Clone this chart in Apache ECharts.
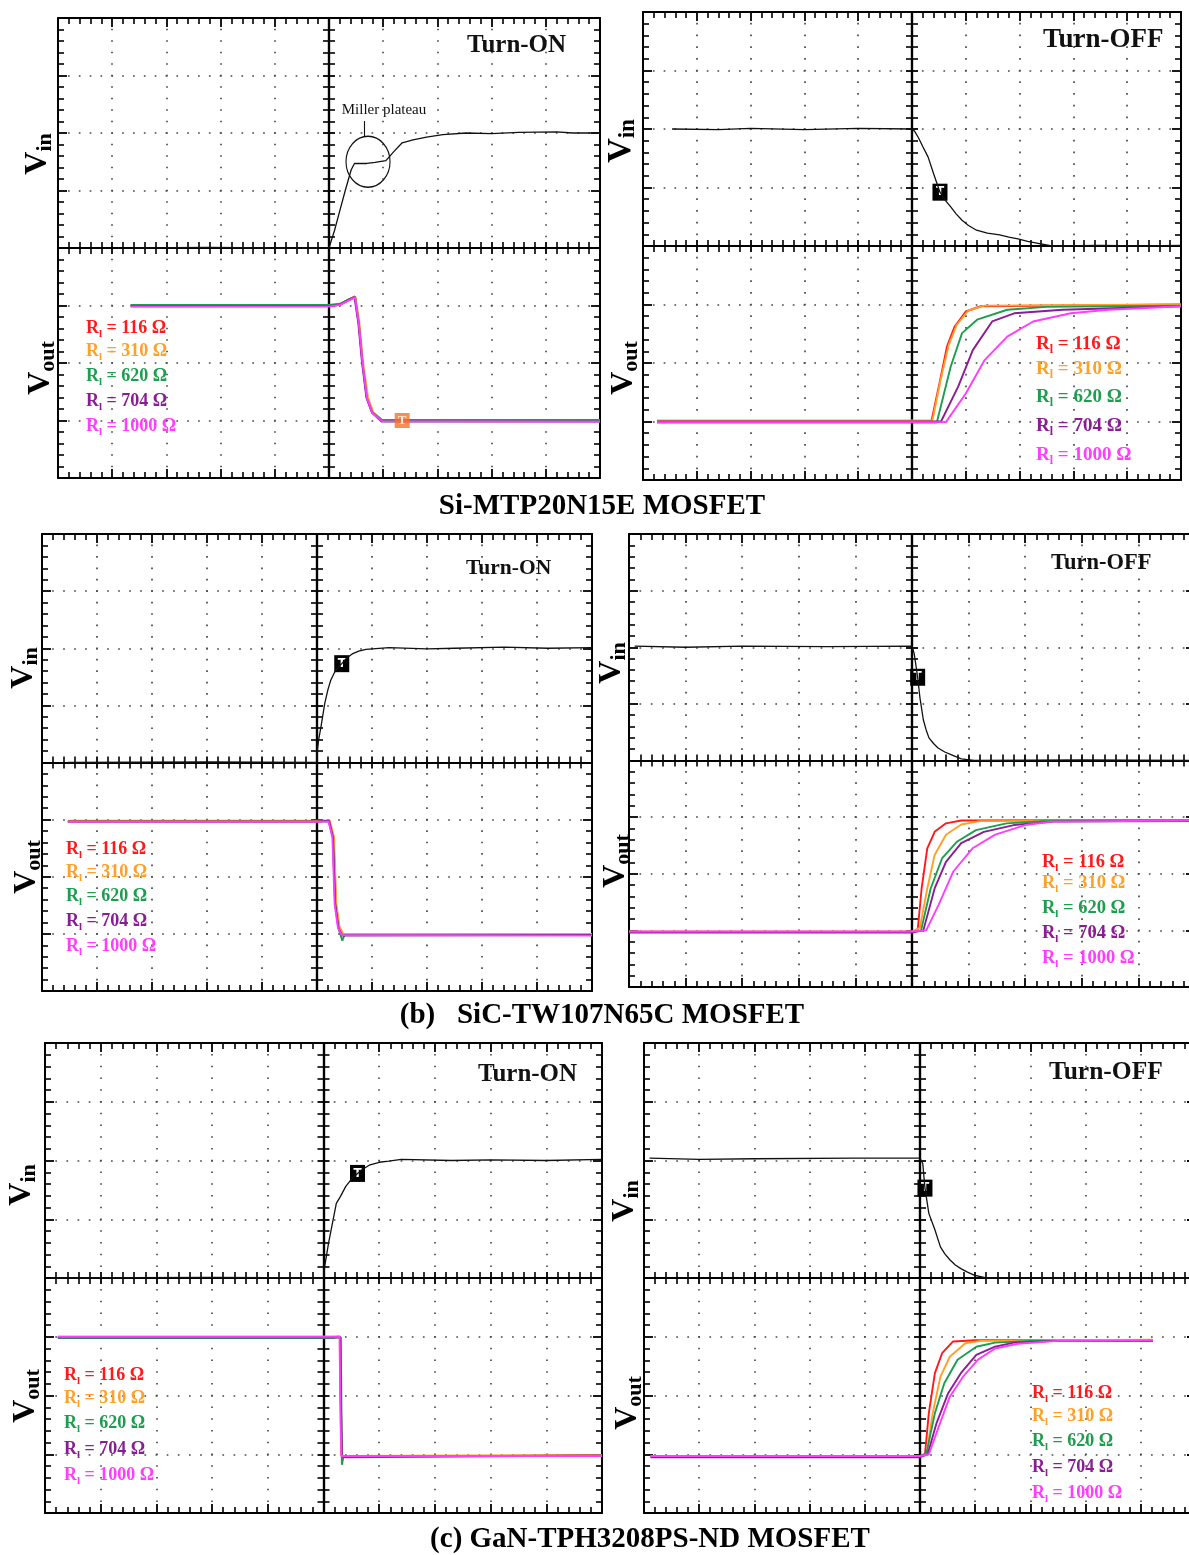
<!DOCTYPE html>
<html>
<head>
<meta charset="utf-8">
<script src="https://cdn.jsdelivr.net/npm/echarts@6/dist/echarts.min.js"></script>
<style>
html,body{margin:0;padding:0;background:#fff;}
#chart{width:1189px;height:1555px;}
</style>
</head>
<body>
<div id="chart"></div>
<script>
// ---------------- DATA (x, y in scope divisions; centre of screen = 0,0) ----------------
const captions = ['Si-MTP20N15E MOSFET', '(b)   SiC-TW107N65C MOSFET', '(c) GaN-TPH3208PS-ND MOSFET'];
const modeTitles = ['Turn-ON', 'Turn-OFF', 'Turn-ON', 'Turn-OFF', 'Turn-ON', 'Turn-OFF'];
const loadValues = ['116', '310', '620', '704', '1000'];
const millerText = 'Miller plateau';

// Vin traces
const vinA = [[-3.65,0],[-2.2,0.01],[-1,0],[0,0],[0.1,0.3],[0.2,0.65],[0.3,1.0],[0.41,1.36],[0.47,1.47],[0.5,1.5],[0.7,1.47],[0.85,1.49],[1.05,1.52],[1.2,1.68],[1.35,1.83],[1.55,1.88],[1.8,1.93],[2.1,1.97],[2.53,2.0],[3.0,1.99],[3.5,2.01],[4.2,2.02],[4.5,2.0],[5,2.0]];
const vinB = [[-4.46,2.0],[-3.6,1.99],[-3,2.01],[-2,1.99],[-1,2.01],[0,2.0],[0.05,1.96],[0.12,1.85],[0.2,1.7],[0.3,1.52],[0.4,1.24],[0.52,0.92],[0.62,0.78],[0.72,0.67],[0.82,0.55],[0.93,0.44],[1.05,0.35],[1.2,0.27],[1.4,0.22],[1.63,0.19],[1.8,0.15],[1.97,0.12],[2.15,0.08],[2.32,0.05],[2.6,0.0],[3.5,0.01],[4.3,0.0],[5,0.01]];
const vinC = [[-4.53,0],[-2,0.01],[0,0],[0.0,0.16],[0.03,0.4],[0.07,0.61],[0.14,1.03],[0.2,1.28],[0.25,1.44],[0.32,1.58],[0.39,1.67],[0.45,1.73],[0.54,1.83],[0.64,1.9],[0.76,1.95],[0.89,1.98],[1.31,2.01],[2.0,1.99],[2.5,2.0],[3.4,2.02],[4.2,2.0],[5,2.01]];
const vinD = [[-4.9,2.02],[-4,2.0],[-3,2.02],[-1.5,2.01],[0,2.02],[0.04,1.88],[0.1,1.47],[0.14,1.11],[0.2,0.72],[0.25,0.54],[0.3,0.4],[0.38,0.3],[0.46,0.22],[0.58,0.15],[0.7,0.1],[0.87,0.03],[1.1,0],[3,0.01],[5,0]];
const vinE = [[-4.9,0],[-2,0.01],[0,0],[0.02,0.19],[0.09,0.59],[0.16,0.93],[0.23,1.27],[0.3,1.38],[0.4,1.56],[0.5,1.68],[0.61,1.78],[0.72,1.86],[0.82,1.92],[1.0,1.97],[1.17,1.99],[1.4,2.02],[2.3,2.0],[3,2.01],[4,2.0],[5,2.02]];
const vinF = [[-4.9,2.04],[-4,2.02],[-3,2.03],[-1.2,2.04],[0,2.04],[0.05,1.95],[0.09,1.53],[0.16,1.1],[0.27,0.82],[0.37,0.53],[0.45,0.41],[0.54,0.31],[0.64,0.22],[0.74,0.16],[0.86,0.1],[0.98,0.05],[1.2,0],[5,0]];

// Vout traces, panel A (Si turn-on)
const voutA116 = [[-3.66,-1.0],[0,-1.0],[0.2,-0.98],[0.35,-0.9],[0.48,-0.84],[0.55,-1.3],[0.62,-2.0],[0.7,-2.6],[0.8,-2.85],[0.98,-3.0],[5,-3.0]];
const voutA310 = [[-3.66,-1.02],[0,-1.01],[0.2,-0.99],[0.35,-0.91],[0.49,-0.85],[0.56,-1.3],[0.63,-2.0],[0.72,-2.6],[0.82,-2.86],[1.0,-3.01],[5,-3.01]];
const voutA620 = [[-3.66,-0.99],[0,-0.99],[0.2,-0.97],[0.35,-0.9],[0.48,-0.85],[0.55,-1.32],[0.62,-2.02],[0.7,-2.62],[0.8,-2.86],[0.98,-2.99],[5,-2.99]];
const voutA704 = [[-3.66,-1.01],[0,-1.01],[0.2,-0.99],[0.35,-0.91],[0.47,-0.86],[0.54,-1.3],[0.61,-2.0],[0.69,-2.6],[0.79,-2.86],[0.97,-3.02],[5,-3.02]];
const voutA1000 = [[-3.66,-1.02],[0,-1.02],[0.2,-0.99],[0.35,-0.92],[0.48,-0.86],[0.55,-1.31],[0.62,-2.01],[0.7,-2.61],[0.8,-2.87],[0.98,-3.01],[5,-3.02]];

// panel B (Si turn-off)
const voutB116 = [[-4.74,-3.0],[0,-3.0],[0.36,-3.0],[0.51,-2.35],[0.65,-1.72],[0.79,-1.38],[1.0,-1.12],[1.28,-1.03],[5,-1.0]];
const voutB310 = [[-4.74,-2.98],[0,-2.98],[0.38,-2.98],[0.53,-2.3],[0.68,-1.7],[0.83,-1.35],[1.05,-1.1],[1.35,-1.02],[5,-1.0]];
const voutB620 = [[-4.74,-3.02],[0,-3.02],[0.46,-3.02],[0.72,-2.06],[0.93,-1.49],[1.21,-1.26],[1.77,-1.09],[2.5,-1.04],[5,-1.02]];
const voutB704 = [[-4.74,-3.0],[0,-3.0],[0.54,-3.0],[0.86,-2.4],[1.13,-1.78],[1.49,-1.29],[1.9,-1.15],[2.8,-1.09],[5,-1.03]];
const voutB1000 = [[-4.74,-3.01],[0,-3.01],[0.63,-3.01],[1.0,-2.52],[1.35,-1.95],[1.77,-1.55],[2.25,-1.29],[2.95,-1.15],[3.65,-1.09],[5,-1.03]];

// panel C (SiC turn-on)
const voutC116 = [[-4.53,-1.03],[0,-1.03],[0.22,-1.02],[0.3,-1.31],[0.34,-2.47],[0.4,-2.88],[0.47,-3.02],[5,-3.01]];
const voutC310 = [[-4.53,-1.02],[0,-1.02],[0.23,-1.01],[0.31,-1.3],[0.35,-2.45],[0.41,-2.88],[0.48,-3.0],[5,-3.0]];
const voutC620 = [[-4.53,-1.04],[0,-1.04],[0.21,-1.03],[0.29,-1.31],[0.33,-2.47],[0.39,-2.9],[0.46,-3.12],[0.5,-3.02],[5,-3.02]];
const voutC704 = [[-4.53,-1.03],[0,-1.03],[0.22,-1.02],[0.29,-1.32],[0.33,-2.48],[0.39,-2.9],[0.46,-3.03],[5,-3.02]];
const voutC1000 = [[-4.53,-1.04],[0,-1.04],[0.21,-1.03],[0.28,-1.31],[0.32,-2.47],[0.38,-2.89],[0.45,-3.02],[5,-3.03]];

// panel D (SiC turn-off)
const voutD116 = [[-5,-3.03],[0,-3.03],[0.1,-3.0],[0.17,-2.26],[0.27,-1.55],[0.4,-1.26],[0.6,-1.11],[0.87,-1.06],[5,-1.05]];
const voutD310 = [[-5,-3.02],[0,-3.02],[0.14,-2.95],[0.27,-2.26],[0.4,-1.67],[0.6,-1.31],[0.87,-1.13],[1.2,-1.07],[5,-1.06]];
const voutD620 = [[-5,-3.03],[0,-3.03],[0.16,-3.0],[0.33,-2.26],[0.53,-1.73],[0.8,-1.43],[1.13,-1.23],[1.67,-1.11],[2.3,-1.07],[5,-1.06]];
const voutD704 = [[-5,-3.04],[0,-3.04],[0.2,-3.0],[0.4,-2.26],[0.6,-1.79],[0.87,-1.46],[1.27,-1.26],[1.8,-1.14],[2.5,-1.08],[5,-1.07]];
const voutD1000 = [[-5,-3.02],[0,-3.02],[0.25,-3.0],[0.47,-2.55],[0.73,-1.96],[1.07,-1.55],[1.47,-1.31],[2.0,-1.14],[2.47,-1.08],[5,-1.06]];

// panel E (GaN turn-on)
const voutE116 = [[-4.77,-1.01],[0,-1.01],[0.19,-1.01],[0.3,-1.0],[0.31,-2.0],[0.33,-3.05],[0.36,-3.02],[5,-3.02]];
const voutE310 = [[-4.77,-1.0],[0,-1.0],[0.19,-1.0],[0.29,-0.99],[0.3,-2.0],[0.32,-3.03],[0.35,-3.01],[5,-3.01]];
const voutE620 = [[-4.77,-1.02],[0,-1.02],[0.19,-1.02],[0.31,-1.01],[0.32,-2.0],[0.33,-3.18],[0.36,-3.03],[5,-3.03]];
const voutE704 = [[-4.77,-1.01],[0,-1.01],[0.19,-1.01],[0.3,-1.01],[0.31,-2.0],[0.33,-3.04],[0.36,-3.02],[5,-3.02]];
const voutE1000 = [[-4.77,-1.0],[0,-1.0],[0.19,-1.0],[0.29,-1.0],[0.3,-2.0],[0.32,-3.03],[0.35,-3.02],[5,-3.03]];

// panel F (GaN turn-off)
const voutF116 = [[-4.88,-3.04],[0,-3.04],[0.09,-3.0],[0.16,-2.3],[0.27,-1.62],[0.4,-1.28],[0.6,-1.08],[1.0,-1.06],[4.22,-1.06]];
const voutF310 = [[-4.88,-3.03],[0,-3.03],[0.12,-3.0],[0.23,-2.3],[0.37,-1.68],[0.54,-1.34],[0.82,-1.11],[1.1,-1.07],[4.22,-1.05]];
const voutF620 = [[-4.88,-3.04],[0,-3.04],[0.12,-2.97],[0.27,-2.3],[0.44,-1.79],[0.68,-1.39],[1.02,-1.17],[1.36,-1.1],[2.0,-1.07],[4.22,-1.07]];
const voutF704 = [[-4.88,-3.05],[0,-3.05],[0.14,-3.0],[0.3,-2.47],[0.51,-1.96],[0.74,-1.62],[1.02,-1.31],[1.36,-1.17],[1.7,-1.1],[2.5,-1.07],[4.22,-1.07]];
const voutF1000 = [[-4.88,-3.03],[0,-3.03],[0.16,-3.0],[0.34,-2.53],[0.54,-2.02],[0.78,-1.68],[1.05,-1.39],[1.36,-1.2],[1.77,-1.12],[2.5,-1.07],[4.22,-1.06]];

// trigger ("T") markers on Vin traces
const trigVin = [[1.35,1.86],[0.52,0.92],[0.45,1.73],[0.1,1.47],[0.61,1.78],[0.09,1.53]];
// small "T" markers on Vout traces [x, y, colourIndex]
const trigVoutA = [[1.35,-3.0,1]];
const trigVoutB = [[0.26,-2.93,1],[0.54,-2.98,3]];
const trigVoutC = [[0.46,-2.9,3]];
const trigVoutD = [[0.12,-2.67,0],[0.1,-2.85,1],[0.12,-2.95,3]];
const trigVoutE = [[0.12,-0.99,1],[0.28,-0.95,4],[0.61,-2.9,0]];
const trigVoutF = [[0.14,-2.7,0]];
// Miller plateau ellipse centre
const millerCentre = [0.72, 1.5];

// ---------------- LAYOUT / STYLE ----------------
const layout = [
  {left:58, top:18, width:542, height:460},
  {left:643, top:12, width:538, height:468},
  {left:42, top:534, width:550, height:457},
  {left:629, top:534, width:566, height:453},
  {left:45, top:1043, width:557, height:470},
  {left:644, top:1043, width:552, height:470}
];
const colors = ['#ff1a1a', '#ffa128', '#1c9e4e', '#8a1c96', '#ff3cff'];
const FONT = '"Liberation Serif", "Times New Roman", serif';

const vins = [vinA, vinB, vinC, vinD, vinE, vinF];
const vouts = [
  [voutA116, voutA310, voutA620, voutA704, voutA1000],
  [voutB116, voutB310, voutB620, voutB704, voutB1000],
  [voutC116, voutC310, voutC620, voutC704, voutC1000],
  [voutD116, voutD310, voutD620, voutD704, voutD1000],
  [voutE116, voutE310, voutE620, voutE704, voutE1000],
  [voutF116, voutF310, voutF620, voutF704, voutF1000]
];
const trigVouts = [trigVoutA, trigVoutB, trigVoutC, trigVoutD, trigVoutE, trigVoutF];

const vinLabelPos = [[38,154,32,22],[621,141,34,23],[24,668,32,22],[612,663,32,22],[22,1185,32,22],[625,1201,32,22]];
const voutLabelPos = [[41,368],[624,368],[27,867],[616,861],[26,1396],[628,1403]];
const titlePos = [[467,46,25],[1043,40,27],[466,568,21.5],[1051,563,22.5],[478,1075,25],[1049,1072,25.5]];
const legendPos = [
  [86,[328,351,376,401,426],18],
  [1036,[344,369,397,426,455],19],
  [66,[849,872,896,921,946],18],
  [1042,[862,883,908,933,958],18.5],
  [64,[1375,1398,1423,1449,1475],18],
  [1032,[1393,1416,1441,1467,1493],18]
];
const captionPos = [[602,507],[602,1016],[650,1540]];

const grids = [], xAxes = [], yAxes = [], series = [], graphics = [];

function axisBase(i, pos, inside, tickLen, minorLen, onZero, onZeroIdx, lw) {
  const a = {
    type:'value', gridIndex:i, position:pos,
    axisLabel:{show:false},
    axisLine:{show:true, onZero:onZero, lineStyle:{color:'#000', width:lw}},
    axisTick:{show:true, inside:inside, length:tickLen, lineStyle:{color:'#000', width:1.8}},
    minorTick:{show:true, splitNumber:5, length:minorLen, lineStyle:{color:'#000', width:1.6}},
    splitLine:{show:false}, minorSplitLine:{show:false}
  };
  if (onZero) a.axisLine.onZeroAxisIndex = onZeroIdx;
  return a;
}

layout.forEach((p, i) => {
  grids.push({left:p.left, top:p.top, width:p.width, height:p.height, containLabel:false, outerBoundsMode:'none', show:false});
  const xb = xAxes.length, yb = yAxes.length;
  const vPeriod = p.height / 40, hPeriod = p.width / 50;
  // X axes: bottom border, top border, centre (down ticks), centre (up ticks)
  const xBottom = axisBase(i,'bottom',true,9,6,false,null,2);
  xBottom.splitLine = {show:true, lineStyle:{color:'#4a4a4a', width:1.7, type:[1.7, vPeriod-1.7], dashOffset:0.85}};
  const xTop = axisBase(i,'top',true,9,6,false,null,2);
  const xC1 = axisBase(i,'bottom',false,6,6,true,yb,2.2);
  const xC2 = axisBase(i,'bottom',true,6,6,true,yb,2.2);
  [xBottom, xTop, xC1, xC2].forEach(a => { a.min = -5; a.max = 5; a.interval = 1; xAxes.push(a); });
  // Y axes: left border, right border, centre (both tick sides)
  const yLeft = axisBase(i,'left',true,9,6,false,null,2);
  yLeft.splitLine = {show:true, lineStyle:{color:'#4a4a4a', width:1.7, type:[1.7, hPeriod-1.7], dashOffset:0.85}};
  const yRight = axisBase(i,'right',true,9,6,false,null,2);
  const yC1 = axisBase(i,'left',false,6,6,true,xb,2.2);
  const yC2 = axisBase(i,'left',true,6,6,true,xb,2.2);
  [yLeft, yRight, yC1, yC2].forEach(a => { a.min = -4; a.max = 4; a.interval = 1; yAxes.push(a); });

  // Vout traces
  vouts[i].forEach((d, k) => {
    series.push({
      type:'line', name:'Rl = ' + loadValues[k] + ' Ω', xAxisIndex:xb, yAxisIndex:yb, data:d,
      symbol:'none', showSymbol:false, smooth:false, z:3 + k,
      lineStyle:{color:colors[k], width:1.9}, animation:false
    });
  });
  // small coloured T markers on Vout
  const tv = trigVouts[i];
  series.push({
    type:'scatter', xAxisIndex:xb, yAxisIndex:yb, z:9,
    data: tv.map(t => ({value:[t[0], t[1]],
      itemStyle:{color: i === 0 ? '#f47328' : colors[t[2]]},
      label:{color: (i === 0 ? '#fff' : colors[t[2]])}})),
    symbol: i === 0 ? 'rect' : 'none', symbolSize: i === 0 ? [15,15] : 1,
    label:{show:true, formatter:'T', position:'inside', fontFamily:FONT, fontWeight:'bold', fontSize: i === 0 ? 13 : 12},
    animation:false, silent:true
  });

  // Vin trace with trigger marker
  const vinSeries = {
    type:'line', name:'Vin', xAxisIndex:xb, yAxisIndex:yb, data:vins[i],
    symbol:'none', showSymbol:false, smooth:false, z:10,
    lineStyle:{color:'#111', width:1.3}, animation:false,
    markPoint: {
      animation:false, silent:true,
      data: [ i === 0
        ? {coord:trigVin[i], symbol:'none', label:{show:true, formatter:'I', color:'#111', fontSize:14, fontFamily:FONT, fontWeight:'bold', position:'inside'}}
        : {coord:trigVin[i], symbol:'rect', symbolSize:[15,17], itemStyle:{color:'#000'}, label:{show:true, formatter:'T', color:'#fff', fontSize:12, fontWeight:'bold', fontFamily:'"DejaVu Sans", sans-serif', position:'inside'}}
      ]
    }
  };
  if (i === 0) {
    vinSeries.markPoint.data.push({coord:millerCentre, symbol:'circle', symbolSize:[44,51],
      itemStyle:{color:'rgba(0,0,0,0)', borderColor:'#111', borderWidth:1.2}, label:{show:false}});
  }
  series.push(vinSeries);

  // texts
  const vl = vinLabelPos[i];
  graphics.push({type:'text', x:vl[0], y:vl[1], rotation:Math.PI/2, z:100,
    style:{text:'{v|V}{s|in}', align:'center', verticalAlign:'middle',
      rich:{v:{fontSize:vl[2], fontWeight:'bold', fontFamily:FONT, fill:'#000', lineHeight:vl[2]+4},
            s:{fontSize:vl[3], fontWeight:'bold', fontFamily:FONT, fill:'#000', verticalAlign:'bottom'}}}});
  const vo = voutLabelPos[i];
  graphics.push({type:'text', x:vo[0], y:vo[1], rotation:Math.PI/2, z:100,
    style:{text:'{v|V}{s|out}', align:'center', verticalAlign:'middle',
      rich:{v:{fontSize:32, fontWeight:'bold', fontFamily:FONT, fill:'#000', lineHeight:36},
            s:{fontSize:22, fontWeight:'bold', fontFamily:FONT, fill:'#000', verticalAlign:'bottom'}}}});
  const tp = titlePos[i];
  graphics.push({type:'text', x:tp[0], y:tp[1], z:100,
    style:{text:modeTitles[i], fontSize:tp[2], fontWeight:'bold', fontFamily:FONT, fill:'#111', align:'left', verticalAlign:'middle'}});
  const lp = legendPos[i];
  loadValues.forEach((v, k) => {
    const fs = lp[2];
    graphics.push({type:'text', x:lp[0], y:lp[1][k], z:100,
      style:{text:'{r|R}{s|l}{r| = ' + v + ' Ω}', align:'left', verticalAlign:'middle',
        rich:{r:{fontSize:fs, fontWeight:'bold', fontFamily:FONT, fill:colors[k], lineHeight:fs+5},
              s:{fontSize:Math.round(fs*0.62), fontWeight:'bold', fontFamily:FONT, fill:colors[k], verticalAlign:'bottom'}}}});
  });
});

captions.forEach((c, k) => {
  graphics.push({type:'text', x:captionPos[k][0], y:captionPos[k][1], z:100,
    style:{text:c, fontSize:29, fontWeight:'bold', fontFamily:FONT, fill:'#000', align:'center', verticalAlign:'middle'}});
});
// Miller plateau annotation
graphics.push({type:'text', x:384, y:110, z:100,
  style:{text:millerText, fontSize:15, fontFamily:FONT, fill:'#111', align:'center', verticalAlign:'middle'}});
graphics.push({type:'line', z:100, shape:{x1:364.5, y1:121, x2:364.5, y2:137}, style:{stroke:'#111', lineWidth:1.1}});

const chart = echarts.init(document.getElementById('chart'), null, {renderer:'canvas'});
chart.setOption({
  backgroundColor:'#ffffff',
  animation:false,
  grid:grids,
  xAxis:xAxes,
  yAxis:yAxes,
  series:series,
  graphic:graphics
});
</script>
</body>
</html>
